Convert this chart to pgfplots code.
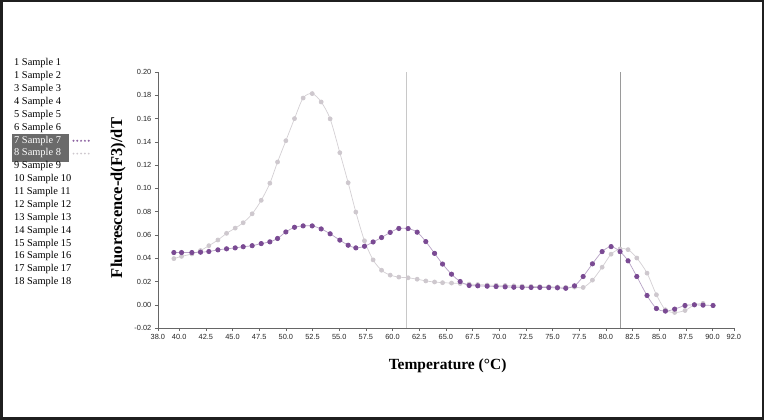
\documentclass[border=0pt]{standalone}
\usepackage{fontspec}
\setmainfont{Liberation Serif}
\newfontfamily\tickfont{Liberation Sans}
\usepackage{pgfplots}
\pgfplotsset{compat=1.18}
\definecolor{purp}{HTML}{7A4A93}
\definecolor{purpline}{HTML}{B8A3C6}
\definecolor{grayd}{HTML}{CEC8CE}
\definecolor{grayline}{HTML}{D4D0D4}
\definecolor{hl}{HTML}{6A6A6A}
\definecolor{vline1}{HTML}{C8C8C8}
\definecolor{vline2}{HTML}{9A9A9A}

\pgfplotstableread{
T v
39.50 0.0449
40.22 0.0449
41.19 0.0449
42.00 0.0452
42.78 0.0458
43.63 0.0472
44.44 0.0481
45.25 0.0489
46.00 0.0499
46.84 0.0508
47.69 0.0526
48.50 0.0541
49.22 0.0570
50.00 0.0626
50.81 0.0666
51.62 0.0678
52.47 0.0678
53.31 0.0652
54.15 0.0610
55.06 0.0556
55.84 0.0512
56.56 0.0489
57.37 0.0503
58.18 0.0540
58.97 0.0578
59.78 0.0622
60.59 0.0656
61.46 0.0655
62.31 0.0624
63.12 0.0543
63.94 0.0442
64.69 0.0350
65.53 0.0263
66.34 0.0200
67.18 0.0166
67.99 0.0163
68.87 0.0160
69.71 0.0157
70.56 0.0154
71.37 0.0151
72.15 0.0150
72.99 0.0149
73.81 0.0149
74.65 0.0148
75.46 0.0146
76.24 0.0142
77.06 0.0163
77.87 0.0243
78.74 0.0352
79.65 0.0457
80.49 0.0500
81.33 0.0457
82.08 0.0378
82.90 0.0243
83.86 0.0080
84.74 -0.0032
85.58 -0.0054
86.45 -0.0037
87.42 -0.0006
88.30 0.0000
89.11 -0.0003
90.05 -0.0006
}\sampleseven

\pgfplotstableread{
T v
39.50 0.0397
40.22 0.0416
41.19 0.0437
42.00 0.0466
42.78 0.0508
43.63 0.0557
44.44 0.0614
45.25 0.0659
46.00 0.0705
46.84 0.0782
47.69 0.0898
48.50 0.1045
49.22 0.1227
50.00 0.1410
50.81 0.1600
51.62 0.1777
52.47 0.1815
53.31 0.1743
54.15 0.1598
55.06 0.1307
55.84 0.1049
56.56 0.0797
57.37 0.0550
58.18 0.0386
58.97 0.0297
59.78 0.0255
60.59 0.0238
61.46 0.0232
62.31 0.0220
63.12 0.0205
63.94 0.0196
64.69 0.0190
65.53 0.0187
66.34 0.0183
67.18 0.0178
67.99 0.0174
68.87 0.0170
69.71 0.0168
70.56 0.0166
71.37 0.0163
72.15 0.0160
72.99 0.0158
73.81 0.0156
74.65 0.0155
75.46 0.0153
76.24 0.0150
77.06 0.0152
77.87 0.0149
78.74 0.0212
79.65 0.0323
80.49 0.0435
81.33 0.0480
82.08 0.0474
82.90 0.0402
83.86 0.0272
84.74 0.0086
85.58 -0.0043
86.45 -0.0066
87.42 -0.0049
88.30 0.0000
89.11 0.0012
}\sampleeight

\begin{document}
\begin{tikzpicture}[x=1pt,y=1pt]
\fill[black!88] (0,0) rectangle (764,420);
\fill[white] (2.5,2.5) rectangle (761.5,417.5);

% sample list
\fill[hl] (11.5,420-162.5) rectangle (69,420-134.5);
\begin{scope}[every node/.style={anchor=west, inner sep=0pt, font=\fontsize{10.4}{12}\selectfont}]
\node at (14,420-63.3) {1 Sample 1};
\node at (14,420-76.2) {1 Sample 2};
\node at (14,420-89.1) {3 Sample 3};
\node at (14,420-102.0) {4 Sample 4};
\node at (14,420-114.8) {5 Sample 5};
\node at (14,420-127.7) {6 Sample 6};
\node[text=white] at (14,420-140.6) {7 Sample 7};
\node[text=white] at (14,420-153.5) {8 Sample 8};
\node at (14,420-166.4) {9 Sample 9};
\node at (14,420-179.2) {10 Sample 10};
\node at (14,420-192.1) {11 Sample 11};
\node at (14,420-205.0) {12 Sample 12};
\node at (14,420-217.9) {13 Sample 13};
\node at (14,420-230.8) {14 Sample 14};
\node at (14,420-243.6) {15 Sample 15};
\node at (14,420-256.5) {16 Sample 16};
\node at (14,420-269.4) {17 Sample 17};
\node at (14,420-282.3) {18 Sample 18};
\end{scope}
\draw[purp!85, line width=2.2pt, line cap=round, dash pattern=on 0pt off 3.8pt] (73.5,420-140.8) -- (91,420-140.8);
\draw[grayd, line width=2pt, line cap=round, dash pattern=on 0pt off 3.8pt] (73.5,420-153.6) -- (92,420-153.6);

\begin{axis}[
  at={(148,79)}, anchor=south west,
  scale only axis, width=576pt, height=256pt,
  xmin=38, xmax=92, ymin=-0.02, ymax=0.20,
  axis x line=bottom, axis y line=left,
  axis line style={-, draw=black!60, line width=0.6pt},
  xtick={38,40,42.5,45,47.5,50,52.5,55,57.5,60,62.5,65,67.5,70,72.5,75,77.5,80,82.5,85,87.5,90,92},
  ytick={-0.02,0,0.02,0.04,0.06,0.08,0.10,0.12,0.14,0.16,0.18,0.20},
  tick align=outside, major tick length=3pt,
  tick style={draw=black!60, line width=0.5pt},
  scaled y ticks=false,
  /pgf/number format/assume math mode=true,
  xticklabel style={/pgf/number format/.cd, fixed, fixed zerofill, precision=1},
  yticklabel style={/pgf/number format/.cd, fixed, fixed zerofill, precision=2},
  ticklabel style={font=\tickfont\fontsize{7.4}{8}\selectfont, text=black!85},
  xlabel={Temperature (°C)},
  ylabel={Fluorescence-d(F3)/dT},
  xlabel style={font=\bfseries\fontsize{15.5}{17}\selectfont, at={(axis description cs:0.503,-0.148)}, anchor=center},
  ylabel style={font=\bfseries\fontsize{16.5}{18}\selectfont, at={(axis description cs:-0.069,0.508)}, anchor=center},
  clip=false,
]
\addplot[vline1, line width=0.6pt] coordinates {(61.25,-0.02) (61.25,0.20)};
\addplot[vline2, line width=0.6pt] coordinates {(81.35,-0.02) (81.35,0.20)};
\addplot[grayline, line width=0.7pt, smooth, mark=*, mark size=2pt,
  mark options={fill=grayd, draw=grayd}] table[x=T,y=v] {\sampleeight};
\addplot[purpline, line width=0.7pt, smooth, mark=*, mark size=2.2pt,
  mark options={fill=purp, draw=purp}] table[x=T,y=v] {\sampleseven};
\end{axis}
\end{tikzpicture}
\end{document}
